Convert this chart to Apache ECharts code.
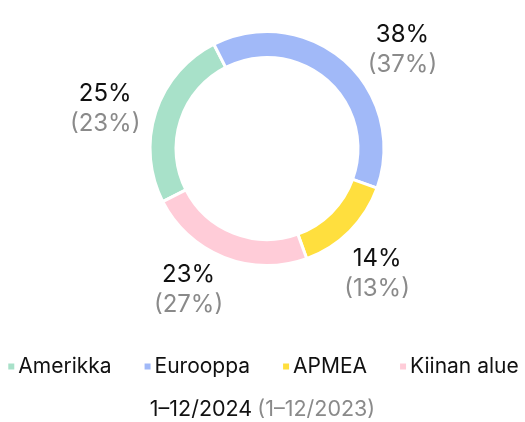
<!DOCTYPE html>
<html><head><meta charset="utf-8">
<script src="https://cdn.jsdelivr.net/npm/echarts@6/dist/echarts.min.js"></script>
<style>html,body{margin:0;padding:0;background:#fff}#c{width:525px;height:422px}</style>
</head><body><div id="c"></div>
<script>
const categories = ['Amerikka', 'Eurooppa', 'APMEA', 'Kiinan alue'];
const share2024 = [25, 38, 14, 23];
const share2023 = [23, 37, 13, 27];
const periodCurrent = '1–12/2024';
const periodPrevious = '(1–12/2023)';

const colors = ['#a8e1c9', '#a1b9f8', '#ffdf3e', '#ffccd8'];
const FONT = 'Inter';
// label nudges (px) relative to the mid-angle anchor
const labelNudge = [[-3, 12], [25, 27], [-8, 7], [-17, -14]];

const chart = echarts.init(document.getElementById('c'), null, {renderer: 'canvas'});
const ringData = categories.map((n, i) => ({name: n, value: share2024[i]}));
chart.setOption({
  animation: false,
  color: colors,
  textStyle: {fontFamily: FONT},
  title: {
    text: '{a|' + periodCurrent + '} {b|' + periodPrevious + '}',
    left: 'center', bottom: -4,
    textStyle: {fontWeight: 'normal', rich: {
      a: {fontFamily: FONT, fontSize: 21.5, fontWeight: 'normal', color: '#111'},
      b: {fontFamily: FONT, fontSize: 21.5, fontWeight: 'normal', color: '#8a8a8a'}
    }}
  },
  legend: {
    data: categories, bottom: 40, left: 'center',
    icon: 'rect', itemWidth: 8, itemHeight: 8, itemGap: 31,
    textStyle: {fontFamily: FONT, fontSize: 21, color: '#111', padding: [0, 0, 0, -2]}
  },
  series: [
    {
      type: 'pie', center: [267, 148.5], radius: [91, 117], startAngle: 207,
      clockwise: true, silent: true,
      itemStyle: {borderColor: '#fff', borderWidth: 3},
      label: {show: false}, labelLine: {show: false},
      data: ringData
    },
    {
      type: 'pie', center: [267, 148.5], radius: [117, 211], startAngle: 207,
      clockwise: true, silent: true, legendHoverLink: false,
      itemStyle: {color: 'rgba(0,0,0,0)'},
      labelLine: {show: false},
      label: {
        show: true, position: 'inside',
        formatter: p => '{a|' + share2024[p.dataIndex] + '%}\n{b|(' + share2023[p.dataIndex] + '%)}',
        rich: {
          a: {fontFamily: FONT, fontSize: 24, color: '#111', lineHeight: 30},
          b: {fontFamily: FONT, fontSize: 24, color: '#8a8a8a', lineHeight: 30}
        }
      },
      labelLayout: p => ({dx: labelNudge[p.dataIndex][0], dy: labelNudge[p.dataIndex][1]}),
      data: categories.map((n, i) => ({name: n + ' ', value: share2024[i]}))
    }
  ]
});
</script></body></html>
